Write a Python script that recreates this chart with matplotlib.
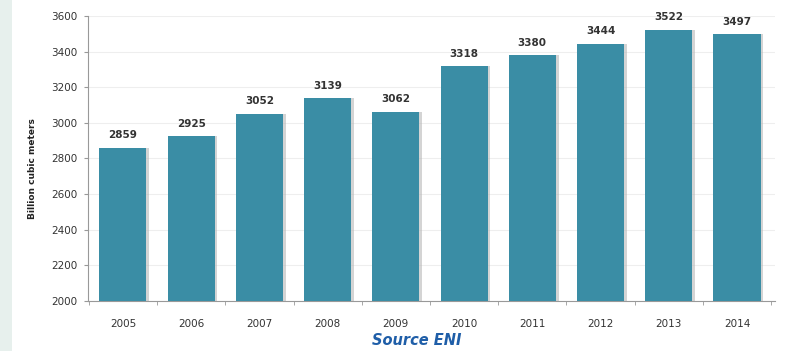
import numpy as np
import matplotlib.pyplot as plt
from matplotlib.patches import Rectangle

years = ["2005", "2006", "2007", "2008", "2009", "2010", "2011", "2012", "2013", "2014"]
consumption = [2859, 2925, 3052, 3139, 3062, 3318, 3380, 3444, 3522, 3497]
y_ticks = [2000, 2200, 2400, 2600, 2800, 3000, 3200, 3400, 3600]

bar_color = "#3a8da5"

fig = plt.figure(figsize=(7.87, 3.51), dpi=100)
fig.patch.set_facecolor("white")

# light strip on the left edge
fig.patches.append(Rectangle((0, 0), 12 / 787, 1, transform=fig.transFigure,
                             facecolor="#e7f0ed", edgecolor="none", zorder=0))

ax = fig.add_axes([0.112, 0.1425, 0.873, 0.812])
x = np.arange(len(years))

# soft shadow behind the bars
ax.bar(x + 0.04, np.array(consumption) - 2000, bottom=2000, width=0.69,
       color="#b8b8b8", alpha=0.6, zorder=2)
ax.bar(x, np.array(consumption) - 2000, bottom=2000, width=0.69,
       color=bar_color, zorder=3)

for xi, v in zip(x, consumption):
    ax.text(xi, v + 42, str(v), ha="center", va="bottom", fontsize=7.5,
            fontweight="bold", color="#333333")

ax.set_xlim(-0.51, 9.56)
ax.set_ylim(2000, 3600)
ax.set_yticks(y_ticks)
ax.set_yticklabels([str(t) for t in y_ticks], fontsize=7.5, color="#333333")
ax.set_xticks(x)
ax.set_xticklabels(years, fontsize=7.5, color="#333333")
ax.tick_params(axis="x", length=0, pad=13)
ax.set_xticks(np.arange(len(years) + 1) - 0.5, minor=True)
ax.tick_params(axis="x", which="minor", length=3, color="#999999", direction="out")
ax.tick_params(axis="y", length=3, color="#999999", direction="out", pad=5)

ax.grid(axis="y", color="#eeeeee", linewidth=0.8, zorder=0)
ax.set_axisbelow(True)
for s in ["top", "right"]:
    ax.spines[s].set_visible(False)
ax.spines["left"].set_color("#999999")
ax.spines["bottom"].set_color("#999999")

fig.text(0.041, 0.52, "Billion cubic meters", rotation=90, ha="center", va="center",
         fontsize=6.5, fontweight="bold", color="#222222")
fig.text(0.53, 0.03, "Source ENI", ha="center", va="center", fontsize=10.5,
         fontweight="bold", fontstyle="italic", color="#1f5ea8")

fig.savefig("out.png", dpi=100)
